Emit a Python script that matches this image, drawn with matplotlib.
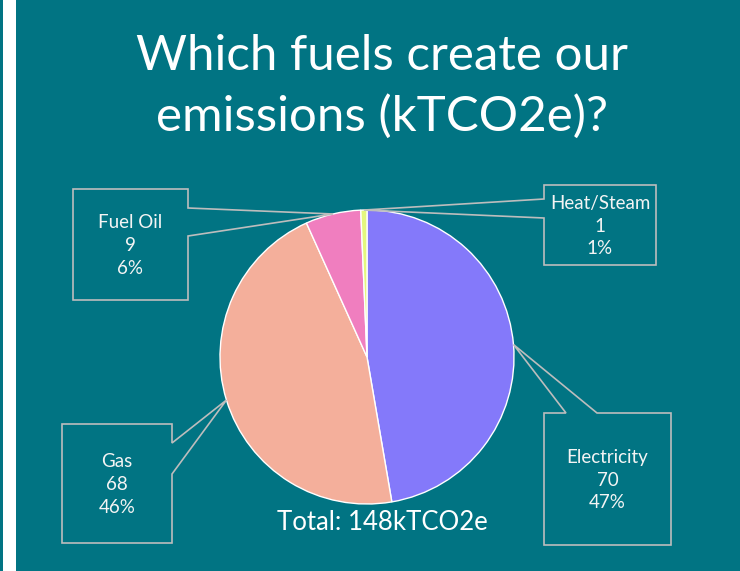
"""Emissions by fuel - pie chart with callout labels"""

import numpy as np
import matplotlib
matplotlib.use('Agg')
import matplotlib.pyplot as plt
from matplotlib.patches import Polygon, Rectangle

# data
fuels = ['Electricity', 'Gas', 'Fuel Oil', 'Heat/Steam']
emissions = [70, 68, 9, 1]
colors = ['#8479FA', '#F4AF9B', '#F07EBF', '#E4F77E']

title_lines = ['Which fuels create our', 'emissions (kTCO2e)?']

# layout (pixels): callout box left, top, right, bottom and pointer side / base
boxes = {
    'Electricity': ((544, 413, 671, 545), 'top', (566, 597)),
    'Gas': ((62, 424, 172, 543), 'right', (443, 474)),
    'Fuel Oil': ((73, 189, 188, 300), 'right', (208, 236)),
    'Heat/Steam': ((544, 185, 656, 265), 'left', (199, 218)),
}

BG = '#017483'
EDGE = '#BDBDBD'
W, H = 740, 571

plt.rcParams['font.family'] = ['Lato', 'DejaVu Sans']

fig = plt.figure(figsize=(W / 100, H / 100), dpi=100, facecolor=BG)

# pie axes: centre (367, 357), radius 147 px
cx, cy, r = 367, 357, 147
ax = fig.add_axes([(cx - r) / W, (H - cy - r) / H, 2 * r / W, 2 * r / H])
wedges, _ = ax.pie(emissions, colors=colors, startangle=90, counterclock=False,
                   radius=1, wedgeprops=dict(edgecolor='white', linewidth=1.0))
ax.set_xlim(-1, 1)
ax.set_ylim(-1, 1)
ax.set_aspect('auto')
ax.axis('off')

# overlay in pixel coordinates
ov = fig.add_axes([0, 0, 1, 1], zorder=5)
ov.set_xlim(0, W)
ov.set_ylim(H, 0)
ov.axis('off')
ov.patch.set_alpha(0)

ov.add_patch(Rectangle((3, 0), 13, H, facecolor='white', edgecolor='none'))

total = sum(emissions)
to_px = ax.transData + ov.transData.inverted()

for w, name, val in zip(wedges, fuels, emissions):
    mid = np.deg2rad((w.theta1 + w.theta2) / 2)
    tip = to_px.transform((np.cos(mid), np.sin(mid)))
    (l, t, rr, b), side, (p1, p2) = boxes[name]
    if side == 'right':
        pts = [(l, t), (rr, t), (rr, p1), tip, (rr, p2), (rr, b), (l, b)]
    elif side == 'left':
        pts = [(l, t), (rr, t), (rr, b), (l, b), (l, p2), tip, (l, p1)]
    else:
        pts = [(l, t), (p1, t), tip, (p2, t), (rr, t), (rr, b), (l, b)]
    ov.add_patch(Polygon(pts, closed=True, facecolor='none', edgecolor=EDGE,
                         linewidth=1.2))
    pct = round(val / total * 100)
    ov.text((l + rr) / 2, (t + b) / 2 + 1, f'{name}\n{val}\n{pct}%',
            ha='center', va='center', color='#F4F4F4', fontsize=13.5,
            linespacing=1.4)

ov.text(382, 56, title_lines[0], ha='center', va='center', color='white', fontsize=35.5)
ov.text(382, 116, title_lines[1], ha='center', va='center', color='white', fontsize=35.5)
ov.text(382, 522, f'Total: {total}kTCO2e', ha='center', va='center',
        color='white', fontsize=18.5)

fig.savefig('out.png', dpi=100, facecolor=BG)
